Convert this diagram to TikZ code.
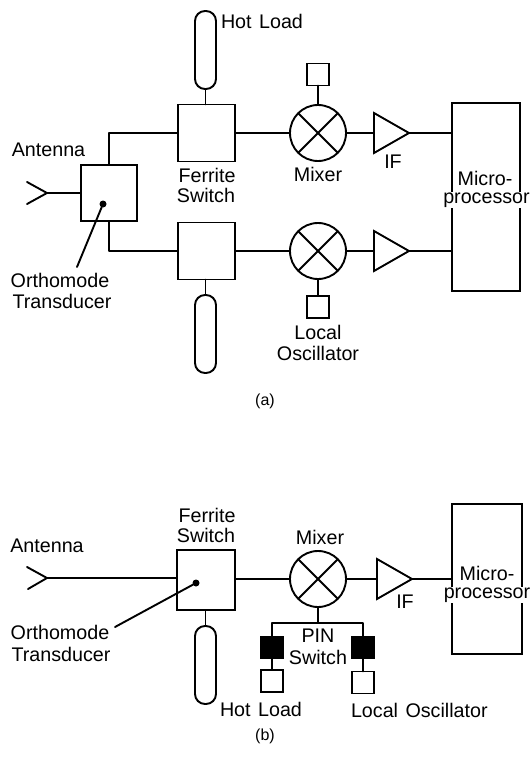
\documentclass[tikz,border=0pt]{standalone}
\usepackage{fontspec}
\setmainfont{Liberation Sans}
\usetikzlibrary{shapes.geometric}
\tikzset{
  x=1pt,y=-1pt,
  wire/.style={draw=black,line width=1.9pt,line cap=round,line join=round},
  block/.style={draw=black,line width=1.9pt,fill=white,rectangle,inner sep=0pt,outer sep=0pt},
  swbox/.style={block,minimum width=57pt,minimum height=57pt},
  smallbox/.style={block,minimum width=22pt,minimum height=22pt},
  blackbox/.style={block,fill=black,minimum width=23pt,minimum height=22pt},
  load/.style={block,minimum width=21pt,minimum height=78pt,rounded corners=10pt},
  mixer/.style={draw=black,line width=1.9pt,circle,fill=white,inner sep=0pt,outer sep=0pt,minimum size=56pt},
  amp/.style={draw=black,line width=1.9pt,fill=white,isosceles triangle,isosceles triangle stretches,shape border rotate=0,inner sep=0pt,outer sep=0pt,minimum width=40pt,minimum height=35pt,anchor=lower side},
  label/.style={font=\fontsize{19.7}{22}\selectfont,inner sep=0pt,outer sep=0pt,text=black},
  wlabel/.style={label,fill=white,inner xsep=1pt,inner ysep=1pt},
  dotmark/.style={circle,fill=black,inner sep=0pt,outer sep=0pt,minimum size=7pt}
}
\begin{document}
\begin{tikzpicture}
\useasboundingbox (0,0) rectangle (531,770);
\fill[white] (0,0) rectangle (531,770);

% ---------- (a) ----------
\coordinate (tipA) at (47,193);
\coordinate (armA1) at (27,182);
\coordinate (armA2) at (27,204);
\node[block,minimum width=56pt,minimum height=56pt] (omtA) at (109,193) {};
\node[swbox] (fsA1) at (206.5,133) {};
\node[swbox] (fsA2) at (206.5,251) {};
\node[load] (hlA1) at (205.5,50) {};
\node[load] (hlA2) at (205.5,334) {};
\node[mixer] (mxA1) at (318,133) {};
\node[mixer] (mxA2) at (318,251) {};
\node[smallbox] (loA1) at (318,74.5) {};
\node[smallbox] (loA2) at (318,307) {};
\node[amp] (ampA1) at (374,133) {};
\node[amp] (ampA2) at (374,251) {};
\node[block,minimum width=68pt,minimum height=188pt] (upA) at (486,197) {};
\node[dotmark] (dotA) at (103,204) {};
\coordinate (leadA) at (77,267);

\draw[wire] (armA1) -- (tipA) -- (armA2);
\draw[wire] (tipA) -- (omtA.west);
\draw[wire] (omtA.north) |- (fsA1.west);
\draw[wire] (omtA.south) |- (fsA2.west);
\draw[wire] (hlA1.south) -- (hlA1.south |- fsA1.north);
\draw[wire] (hlA2.north) -- (hlA2.north |- fsA2.south);
\draw[wire] (fsA1.east) -- (mxA1.west);
\draw[wire] (fsA2.east) -- (mxA2.west);
\draw[wire] (loA1.south) -- (mxA1.north);
\draw[wire] (loA2.north) -- (mxA2.south);
\draw[wire] (mxA1.east) -- (ampA1.lower side);
\draw[wire] (mxA2.east) -- (ampA2.lower side);
\draw[wire] (ampA1.apex) -- (ampA1.apex -| upA.west);
\draw[wire] (ampA2.apex) -- (ampA2.apex -| upA.west);
\draw[wire] (mxA1.north west) -- (mxA1.south east);
\draw[wire] (mxA1.north east) -- (mxA1.south west);
\draw[wire] (mxA2.north west) -- (mxA2.south east);
\draw[wire] (mxA2.north east) -- (mxA2.south west);
\draw[wire] (dotA) -- (leadA);

\node[label] (tA1) at (48.5,150) {Antenna};
\node[label,anchor=west] (tA2) at (221,21) {Hot\hspace{2pt} Load};
\node[label] (tA3) at (207,175) {Ferrite};
\node[label] (tA4) at (206,195) {Switch};
\node[label] (tA5) at (60,280) {Orthomode};
\node[label] (tA6) at (62,301) {Transducer};
\node[label] (tA7) at (318,174) {Mixer};
\node[label] (tA8) at (393,162) {IF};
\node[label] (tA9) at (485,178) {Micro-};
\node[wlabel] (tA10) at (486.5,200) {processor};
\node[label] (tA11) at (318,332) {Local};
\node[label] (tA12) at (318,353) {Oscillator};
\node[label,font=\fontsize{16}{18}\selectfont] (tA13) at (265,401) {(a)};

% ---------- (b) ----------
\coordinate (tipB) at (47,578);
\coordinate (armB1) at (27,567);
\coordinate (armB2) at (28,589);
\node[block,minimum width=58pt,minimum height=60pt] (fsB) at (206,580) {};
\node[load] (hlB) at (205.5,665) {};
\node[mixer] (mxB) at (318,579) {};
\node[amp] (ampB) at (377,579) {};
\node[block,minimum width=70pt,minimum height=150pt] (upB) at (487,579) {};
\coordinate (busL) at (272,623);
\coordinate (busM) at (318,623);
\coordinate (busR) at (363,623);
\node[blackbox] (pinL) at (272,647.5) {};
\node[blackbox] (pinR) at (363,647.5) {};
\node[smallbox] (loL) at (272,681) {};
\node[smallbox] (loR) at (363,682.5) {};
\node[dotmark] (dotB) at (196,583) {};
\coordinate (leadB) at (115,627);

\draw[wire] (armB1) -- (tipB) -- (armB2);
\draw[wire] (tipB) -- (tipB -| fsB.west);
\draw[wire] (hlB.north) -- (hlB.north |- fsB.south);
\draw[wire] (fsB.east |- mxB.west) -- (mxB.west);
\draw[wire] (mxB.east) -- (ampB.lower side);
\draw[wire] (ampB.apex) -- (ampB.apex -| upB.west);
\draw[wire] (mxB.south) -- (busM);
\draw[wire] (pinL.north) |- (busL) -- (busR) -| (pinR.north);
\draw[wire] (pinL.south) -- (loL.north);
\draw[wire] (pinR.south) -- (loR.north);
\draw[wire] (mxB.north west) -- (mxB.south east);
\draw[wire] (mxB.north east) -- (mxB.south west);
\draw[wire] (dotB) -- (leadB);

\node[label] (tB1) at (47,546) {Antenna};
\node[label] (tB2) at (207,515) {Ferrite};
\node[label] (tB3) at (206,535) {Switch};
\node[label] (tB4) at (60,632) {Orthomode};
\node[label] (tB5) at (61,654) {Transducer};
\node[label,anchor=west] (tB6) at (220,709) {Hot\hspace{2pt} Load};
\node[label] (tB7) at (320,537) {Mixer};
\node[label] (tB8) at (405,602) {IF};
\node[label] (tB9) at (487,573) {Micro-};
\node[wlabel] (tB10) at (487,595) {processor};
\node[label] (tB11) at (318,636) {PIN};
\node[label] (tB12) at (318,657) {Switch};
\node[label,anchor=west] (tB13) at (351,710) {Local\hspace{2pt} Oscillator};
\node[label,font=\fontsize{16}{18}\selectfont] (tB14) at (265,736) {(b)};
\end{tikzpicture}
\end{document}
